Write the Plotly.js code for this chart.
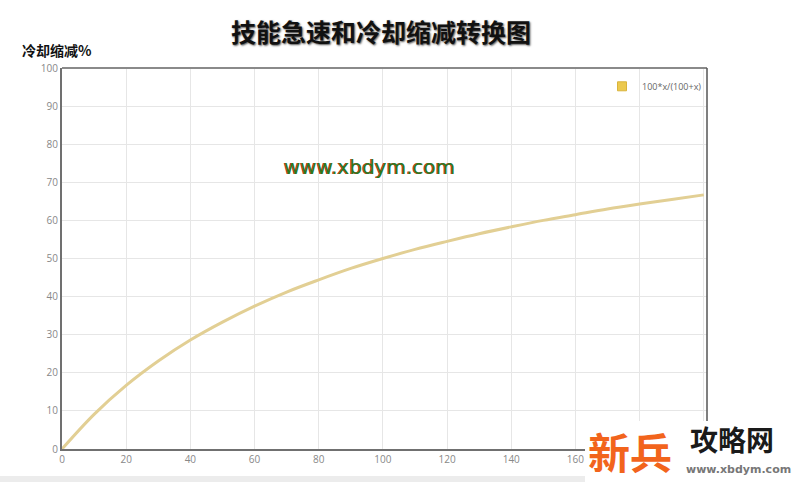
<!DOCTYPE html>
<html><head><meta charset="utf-8">
<script src="https://cdn.plot.ly/plotly-3.0.1.min.js"></script>
<style>html,body{margin:0;padding:0;background:#fff;}#chart{width:800px;height:482px;}</style>
</head><body><div id="chart"></div>
<script>
const chartTitle = "技能急速和冷却缩减转换图";
const yTitle = "冷却缩减%";
const seriesName = "100*x/(100+x)";
const haste = [0,10,20,30,40,50,60,70,80,90,100,110,120,130,140,150,160,170,180,190,200];
const cdr = [0,9.1,16.7,23.1,28.6,33.3,37.5,41.2,44.4,47.4,50,52.4,54.5,56.5,58.3,60,61.5,63,64.3,65.5,66.7];
const xTicks = [0,20,40,60,80,100,120,140,160,180,200];
const xTickText = ["0","20","40","60","80","100","120","140","160","",""];
const yTicks = [0,10,20,30,40,50,60,70,80,90,100];

const W = 800, H = 482, L = 62, R = 93, T = 68, B = 33;
function fx(p){ return (p - L)/(W - L - R); }
function fy(p){ return (H - B - p)/(H - T - B); }

const trace = {
  x: haste, y: cdr, type: 'scatter', mode: 'lines', name: seriesName,
  line: {color: '#e2cf94', width: 3, shape: 'spline'},
  showlegend: false
};
const legendTrace = {
  x: [null], y: [null], type: 'scatter', mode: 'markers', name: seriesName,
  marker: {symbol: 'square', size: 9, color: '#ecc94e', line: {color: '#d9b43c', width: 1}}, showlegend: true
};

const layout = {
  width: W, height: H,
  margin: {l: L, r: R, t: T, b: B},
  paper_bgcolor: '#fff', plot_bgcolor: '#fff',
  font: {family: '"Noto Sans CJK SC", "DejaVu Sans", sans-serif'},
  title: {text: '<b>' + chartTitle + '</b>', x: 381/W, xanchor: 'center', y: 1 - 33/H, yanchor: 'middle',
          font: {size: 25, color: '#111', family: '"Noto Sans CJK SC", sans-serif', shadow: '1px 1px 2px #555'}},
  xaxis: {range: [0, 201], tickvals: xTicks, ticktext: xTickText, showgrid: true, gridcolor: '#e6e6e6', gridwidth: 1,
          zeroline: false, showline: true, linecolor: '#707070', linewidth: 2,
          tickfont: {size: 10, color: '#888', family: '"Open Sans", sans-serif'}, ticks: '', fixedrange: true},
  yaxis: {range: [0, 100], tickvals: yTicks, showgrid: true, gridcolor: '#e6e6e6', gridwidth: 1,
          zeroline: false, showline: true, linecolor: '#707070', linewidth: 2,
          tickfont: {size: 10, color: '#888', family: '"Open Sans", sans-serif'}, ticks: '', fixedrange: true},
  legend: {x: 1.0, xanchor: 'right', y: 0.99, yanchor: 'top', bgcolor: 'rgba(0,0,0,0)',
           font: {size: 9, color: '#666', family: '"Open Sans", sans-serif'}, itemwidth: 30},
  shapes: [
    {type: 'line', xref: 'paper', yref: 'paper', x0: 0, x1: 1, y0: 1, y1: 1, line: {color: '#8a8a8a', width: 2}},
    {type: 'line', xref: 'paper', yref: 'paper', x0: 1, x1: 1, y0: 0, y1: 1, line: {color: '#555', width: 1.5}},
    {type: 'rect', xref: 'paper', yref: 'paper', x0: fx(0), x1: fx(800), y0: fy(482), y1: fy(476),
     fillcolor: '#ececec', line: {width: 0}, layer: 'above'},
    {type: 'rect', xref: 'paper', yref: 'paper', x0: fx(585), x1: fx(800), y0: fy(482), y1: fy(421),
     fillcolor: '#ffffff', line: {width: 0}, layer: 'above'}
  ],
  annotations: [
    {text: '<b>' + yTitle + '</b>', xref: 'paper', yref: 'paper', x: fx(20), xanchor: 'left',
     y: fy(50), yanchor: 'middle', showarrow: false, font: {size: 14, color: '#111'}},
    {text: 'www.xbdym.com', xref: 'paper', yref: 'paper', x: fx(369), xanchor: 'center',
     y: fy(167), yanchor: 'middle', showarrow: false,
     font: {size: 20, color: '#2a7a1c', family: '"DejaVu Sans", sans-serif', shadow: '-1px 0px 0px #c0281e'}},
    {text: '<b>新兵</b>', xref: 'paper', yref: 'paper', x: fx(586), xanchor: 'left', y: fy(450), yanchor: 'middle',
     showarrow: false, font: {size: 42, color: '#f2641c', family: '"Noto Sans CJK SC", sans-serif'}},
    {text: '<b>攻略网</b>', xref: 'paper', yref: 'paper', x: fx(688), xanchor: 'left', y: fy(439), yanchor: 'middle',
     showarrow: false, font: {size: 28, color: '#1a1a1a', family: '"Noto Sans CJK SC", sans-serif'}},
    {text: '<b>www.xbdym.com</b>', xref: 'paper', yref: 'paper', x: fx(684), xanchor: 'left', y: fy(470), yanchor: 'middle',
     showarrow: false, font: {size: 11, color: '#777', family: '"DejaVu Sans", sans-serif'}}
  ]
};

Plotly.newPlot('chart', [trace, legendTrace], layout, {displayModeBar: false, staticPlot: true});
</script>
</body></html>
